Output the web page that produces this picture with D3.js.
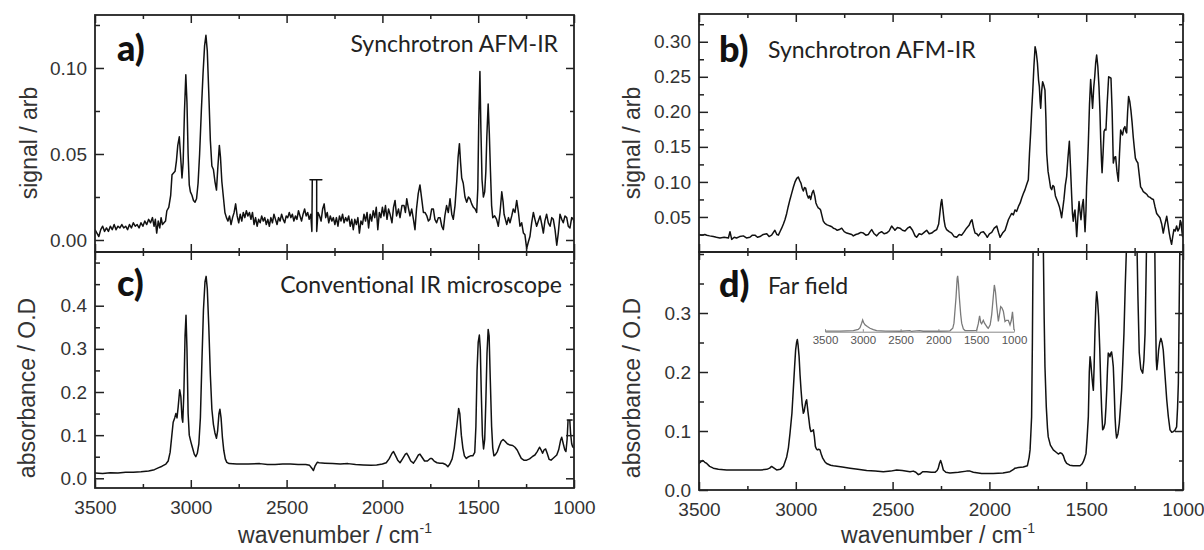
<!DOCTYPE html>
<html><head><meta charset="utf-8">
<script src="https://cdn.jsdelivr.net/npm/d3@7"></script>
<style>
body{margin:0;background:#fff;}
svg{display:block;}
</style></head><body>
<script>
// ---------- DATA (wavenumber cm-1, value) ----------
const xMajorTicks = [3500,3000,2500,2000,1500,1000];
const xMinorTicks = [3250,2750,2250,1750,1250];
const insetTicks = [3500,3000,2500,2000,1500,1000];

const yTicksA = [0,0.05,0.10], yMinorA = [0.025,0.075,0.125];
const yTicksB = [0.05,0.10,0.15,0.20,0.25,0.30], yMinorB = [0.025,0.075,0.125,0.175,0.225,0.275,0.325];
const yTicksC = [0,0.1,0.2,0.3,0.4], yMinorC = [0.05,0.15,0.25,0.35,0.45,0.5];
const yTicksD = [0,0.1,0.2,0.3], yMinorD = [0.05,0.15,0.25,0.35,0.4];

const spectrumA = [[3500,0.006],[3490,0.004],[3480,0.002],[3470,0.006],[3460,0.008],[3450,0.005],[3440,0.007],[3430,0.005],[3420,0.008],[3410,0.006],[3400,0.009],[3390,0.006],[3380,0.008],[3370,0.007],[3360,0.009],[3350,0.007],[3340,0.008],[3330,0.006],[3320,0.009],[3310,0.007],[3300,0.010],[3290,0.008],[3280,0.009],[3270,0.007],[3260,0.010],[3250,0.008],[3240,0.011],[3230,0.009],[3220,0.012],[3210,0.010],[3200,0.013],[3192,0.008],[3185,0.012],[3178,0.004],[3170,0.011],[3162,0.007],[3155,0.013],[3148,0.009],[3140,0.010],[3132,0.011],[3125,0.017],[3115,0.019],[3105,0.026],[3098,0.038],[3090,0.039],[3082,0.040],[3075,0.046],[3068,0.055],[3060,0.060],[3054,0.050],[3046,0.036],[3040,0.045],[3033,0.075],[3026,0.096],[3020,0.080],[3014,0.050],[3008,0.032],[3002,0.028],[2994,0.026],[2986,0.023],[2978,0.022],[2970,0.024],[2962,0.033],[2954,0.050],[2945,0.075],[2936,0.097],[2928,0.113],[2921,0.119],[2914,0.110],[2906,0.085],[2898,0.058],[2890,0.043],[2882,0.041],[2874,0.034],[2866,0.029],[2859,0.042],[2851,0.055],[2845,0.048],[2838,0.034],[2830,0.025],[2822,0.016],[2814,0.013],[2806,0.011],[2798,0.014],[2790,0.009],[2782,0.013],[2774,0.016],[2766,0.021],[2758,0.014],[2750,0.010],[2742,0.015],[2734,0.011],[2726,0.016],[2718,0.013],[2710,0.017],[2702,0.014],[2694,0.016],[2686,0.012],[2678,0.016],[2670,0.009],[2662,0.013],[2654,0.008],[2646,0.012],[2638,0.010],[2630,0.014],[2622,0.011],[2614,0.013],[2606,0.009],[2598,0.012],[2590,0.008],[2582,0.013],[2574,0.010],[2566,0.015],[2558,0.012],[2550,0.009],[2542,0.013],[2534,0.011],[2526,0.015],[2518,0.012],[2510,0.010],[2502,0.014],[2494,0.013],[2486,0.016],[2478,0.013],[2470,0.015],[2462,0.011],[2454,0.014],[2446,0.012],[2438,0.017],[2430,0.014],[2422,0.011],[2414,0.015],[2406,0.018],[2398,0.014],[2390,0.016],[2382,0.012],[2374,0.015],[2368,0.005],[2366,0.035],[2378,0.035],[2316,0.035],[2343,0.035],[2343,0.005],[2336,0.016],[2328,0.014],[2320,0.011],[2312,0.018],[2304,0.021],[2296,0.013],[2288,0.016],[2280,0.010],[2272,0.014],[2264,0.011],[2256,0.013],[2248,0.009],[2240,0.013],[2232,0.008],[2224,0.014],[2216,0.011],[2208,0.015],[2200,0.010],[2192,0.013],[2184,0.011],[2176,0.014],[2168,0.008],[2160,0.012],[2152,0.006],[2144,0.012],[2136,0.009],[2128,0.013],[2120,0.004],[2112,0.011],[2104,0.009],[2096,0.015],[2088,0.011],[2080,0.016],[2072,0.007],[2064,0.015],[2056,0.011],[2048,0.017],[2040,0.013],[2032,0.019],[2024,0.006],[2016,0.016],[2008,0.013],[2000,0.019],[1992,0.014],[1984,0.020],[1976,0.012],[1968,0.018],[1960,0.015],[1950,0.010],[1942,0.019],[1934,0.023],[1926,0.014],[1916,0.018],[1908,0.013],[1898,0.020],[1887,0.020],[1880,0.016],[1873,0.024],[1865,0.019],[1856,0.014],[1847,0.018],[1838,0.012],[1830,0.006],[1822,0.018],[1813,0.027],[1804,0.032],[1795,0.024],[1786,0.016],[1778,0.016],[1768,0.014],[1760,0.011],[1752,0.012],[1743,0.018],[1734,0.018],[1726,0.012],[1717,0.010],[1708,0.013],[1699,0.013],[1690,0.008],[1682,0.006],[1674,0.014],[1665,0.020],[1656,0.016],[1647,0.024],[1638,0.015],[1630,0.012],[1621,0.020],[1612,0.034],[1605,0.048],[1598,0.056],[1592,0.045],[1586,0.036],[1578,0.033],[1569,0.025],[1560,0.022],[1551,0.025],[1543,0.024],[1534,0.021],[1525,0.019],[1516,0.018],[1508,0.016],[1502,0.030],[1497,0.070],[1491,0.098],[1486,0.065],[1480,0.035],[1473,0.025],[1466,0.028],[1460,0.040],[1455,0.060],[1448,0.079],[1442,0.062],[1436,0.040],[1430,0.020],[1424,0.013],[1414,0.014],[1404,0.012],[1395,0.008],[1386,0.016],[1377,0.028],[1370,0.022],[1365,0.015],[1358,0.012],[1351,0.009],[1342,0.013],[1334,0.010],[1325,0.014],[1317,0.018],[1308,0.016],[1299,0.023],[1290,0.016],[1282,0.008],[1273,0.010],[1264,0.004],[1256,0.003],[1247,-0.005],[1238,-0.001],[1230,0.002],[1221,0.010],[1212,0.016],[1204,0.012],[1195,0.008],[1186,0.011],[1177,0.014],[1168,0.009],[1160,0.004],[1152,0.011],[1143,0.015],[1134,0.010],[1125,0.008],[1116,0.013],[1108,0.012],[1099,0.006],[1090,-0.003],[1082,0.004],[1073,0.015],[1064,0.012],[1056,0.010],[1047,0.014],[1038,0.013],[1030,0.008],[1021,0.007],[1012,0.013],[1003,0.012],[1000,0.010]];

const spectrumB = [[3500,0.025],[3485,0.024],[3470,0.025],[3460,0.024],[3445,0.023],[3426,0.022],[3410,0.021],[3392,0.020],[3370,0.021],[3348,0.020],[3340,0.029],[3331,0.018],[3318,0.021],[3306,0.020],[3290,0.022],[3271,0.023],[3255,0.020],[3237,0.021],[3224,0.024],[3211,0.024],[3198,0.021],[3185,0.022],[3168,0.025],[3150,0.026],[3138,0.022],[3125,0.024],[3108,0.031],[3098,0.025],[3090,0.024],[3080,0.030],[3073,0.034],[3064,0.040],[3056,0.046],[3047,0.055],[3039,0.065],[3030,0.075],[3021,0.084],[3012,0.093],[3004,0.100],[2995,0.105],[2987,0.107],[2980,0.102],[2973,0.098],[2967,0.091],[2961,0.087],[2955,0.092],[2949,0.091],[2942,0.082],[2935,0.077],[2929,0.080],[2923,0.075],[2916,0.084],[2909,0.088],[2902,0.080],[2896,0.070],[2890,0.066],[2884,0.063],[2878,0.062],[2872,0.060],[2865,0.052],[2858,0.044],[2850,0.041],[2841,0.039],[2832,0.038],[2823,0.037],[2814,0.036],[2806,0.034],[2796,0.033],[2786,0.031],[2775,0.032],[2763,0.034],[2750,0.029],[2737,0.027],[2724,0.026],[2711,0.025],[2703,0.023],[2690,0.025],[2677,0.026],[2664,0.028],[2651,0.027],[2638,0.024],[2625,0.025],[2616,0.029],[2608,0.032],[2595,0.026],[2582,0.023],[2570,0.027],[2557,0.029],[2544,0.026],[2531,0.027],[2518,0.030],[2505,0.037],[2496,0.034],[2488,0.031],[2475,0.035],[2462,0.034],[2449,0.031],[2436,0.030],[2423,0.034],[2410,0.036],[2397,0.031],[2384,0.023],[2376,0.021],[2363,0.026],[2350,0.025],[2337,0.028],[2324,0.031],[2311,0.026],[2298,0.027],[2285,0.030],[2272,0.032],[2262,0.040],[2256,0.055],[2250,0.070],[2246,0.075],[2240,0.060],[2234,0.045],[2228,0.036],[2221,0.032],[2208,0.029],[2195,0.027],[2182,0.022],[2169,0.021],[2156,0.025],[2143,0.024],[2130,0.029],[2118,0.034],[2105,0.038],[2096,0.044],[2090,0.046],[2082,0.035],[2074,0.027],[2065,0.026],[2057,0.023],[2044,0.028],[2031,0.029],[2020,0.025],[2011,0.021],[2000,0.026],[1988,0.028],[1975,0.034],[1962,0.037],[1953,0.028],[1945,0.021],[1932,0.027],[1919,0.031],[1910,0.039],[1902,0.046],[1893,0.051],[1885,0.055],[1876,0.053],[1868,0.060],[1859,0.058],[1850,0.065],[1841,0.070],[1833,0.077],[1825,0.083],[1816,0.089],[1808,0.096],[1799,0.103],[1793,0.140],[1787,0.170],[1781,0.205],[1776,0.230],[1770,0.265],[1764,0.293],[1758,0.285],[1752,0.270],[1746,0.245],[1742,0.236],[1738,0.215],[1735,0.205],[1730,0.230],[1725,0.243],[1719,0.238],[1713,0.231],[1708,0.190],[1704,0.141],[1697,0.115],[1690,0.103],[1684,0.092],[1678,0.089],[1672,0.095],[1666,0.093],[1659,0.080],[1652,0.075],[1645,0.070],[1639,0.065],[1633,0.058],[1627,0.049],[1621,0.062],[1615,0.075],[1608,0.095],[1601,0.108],[1594,0.135],[1587,0.158],[1581,0.120],[1575,0.080],[1571,0.055],[1567,0.044],[1562,0.055],[1558,0.060],[1553,0.040],[1549,0.022],[1543,0.050],[1537,0.072],[1532,0.058],[1527,0.046],[1521,0.065],[1515,0.075],[1510,0.050],[1506,0.029],[1501,0.060],[1498,0.093],[1493,0.125],[1489,0.155],[1483,0.210],[1477,0.246],[1472,0.225],[1467,0.205],[1461,0.235],[1456,0.250],[1451,0.270],[1446,0.281],[1440,0.265],[1434,0.236],[1429,0.200],[1425,0.160],[1421,0.130],[1418,0.113],[1413,0.140],[1408,0.172],[1403,0.175],[1398,0.174],[1392,0.210],[1384,0.250],[1378,0.249],[1372,0.248],[1366,0.200],[1360,0.127],[1354,0.135],[1348,0.136],[1341,0.115],[1334,0.101],[1328,0.140],[1322,0.174],[1317,0.170],[1312,0.167],[1306,0.176],[1300,0.179],[1295,0.172],[1291,0.170],[1286,0.200],[1281,0.222],[1275,0.215],[1269,0.202],[1263,0.185],[1257,0.164],[1252,0.150],[1246,0.134],[1240,0.130],[1233,0.127],[1226,0.110],[1219,0.093],[1212,0.090],[1205,0.086],[1195,0.084],[1186,0.082],[1179,0.079],[1170,0.078],[1162,0.076],[1153,0.075],[1145,0.065],[1136,0.055],[1128,0.052],[1119,0.049],[1110,0.040],[1102,0.027],[1093,0.040],[1084,0.051],[1078,0.040],[1071,0.027],[1065,0.018],[1059,0.011],[1053,0.022],[1047,0.032],[1040,0.030],[1033,0.037],[1026,0.030],[1019,0.034],[1014,0.045],[1010,0.042],[1005,0.028],[1002,0.022],[1000,0.030]];

const spectrumC = [[3500,0.012],[3460,0.011],[3420,0.013],[3380,0.012],[3340,0.014],[3300,0.014],[3260,0.015],[3220,0.017],[3190,0.020],[3170,0.024],[3150,0.028],[3130,0.033],[3118,0.040],[3108,0.060],[3100,0.095],[3092,0.130],[3084,0.140],[3078,0.150],[3072,0.140],[3066,0.165],[3058,0.205],[3052,0.190],[3046,0.140],[3042,0.130],[3036,0.200],[3030,0.330],[3025,0.378],[3020,0.300],[3014,0.150],[3008,0.100],[3000,0.085],[2992,0.072],[2982,0.056],[2974,0.050],[2966,0.058],[2958,0.080],[2950,0.140],[2942,0.270],[2934,0.390],[2926,0.455],[2920,0.468],[2914,0.440],[2906,0.350],[2898,0.240],[2890,0.160],[2882,0.125],[2874,0.105],[2866,0.093],[2860,0.110],[2853,0.150],[2848,0.160],[2842,0.140],[2835,0.095],[2828,0.065],[2820,0.045],[2812,0.037],[2800,0.034],[2760,0.033],[2700,0.033],[2640,0.034],[2600,0.032],[2560,0.032],[2520,0.033],[2480,0.033],[2440,0.032],[2400,0.032],[2380,0.030],[2366,0.022],[2360,0.018],[2352,0.028],[2340,0.037],[2330,0.036],[2300,0.035],[2260,0.034],[2220,0.033],[2180,0.034],[2140,0.032],[2100,0.031],[2060,0.030],[2030,0.031],[2000,0.033],[1980,0.036],[1965,0.045],[1950,0.058],[1942,0.062],[1934,0.055],[1920,0.042],[1908,0.036],[1895,0.045],[1880,0.056],[1873,0.058],[1865,0.052],[1852,0.040],[1838,0.035],[1825,0.044],[1812,0.054],[1804,0.056],[1795,0.050],[1780,0.040],[1765,0.040],[1750,0.046],[1742,0.046],[1730,0.040],[1715,0.036],[1700,0.035],[1685,0.035],[1670,0.032],[1658,0.027],[1648,0.033],[1636,0.045],[1625,0.070],[1612,0.120],[1602,0.162],[1596,0.150],[1588,0.100],[1580,0.070],[1572,0.052],[1562,0.046],[1550,0.050],[1540,0.052],[1528,0.052],[1518,0.060],[1512,0.120],[1506,0.250],[1500,0.315],[1494,0.332],[1489,0.300],[1484,0.200],[1478,0.100],[1472,0.068],[1466,0.090],[1460,0.180],[1454,0.290],[1448,0.345],[1443,0.330],[1437,0.230],[1430,0.120],[1424,0.070],[1418,0.052],[1410,0.055],[1400,0.062],[1390,0.075],[1380,0.086],[1370,0.090],[1360,0.086],[1348,0.080],[1334,0.077],[1320,0.076],[1308,0.072],[1296,0.065],[1285,0.055],[1275,0.046],[1262,0.042],[1247,0.042],[1232,0.045],[1218,0.050],[1204,0.054],[1192,0.062],[1180,0.072],[1172,0.066],[1164,0.058],[1156,0.066],[1148,0.068],[1140,0.058],[1130,0.044],[1120,0.042],[1110,0.046],[1100,0.050],[1090,0.054],[1080,0.066],[1070,0.088],[1064,0.095],[1056,0.080],[1048,0.066],[1042,0.062],[1036,0.090],[1031,0.135],[1035,0.135],[1010,0.135],[1022,0.135],[1018,0.105],[1012,0.080],[1007,0.073],[1000,0.070]];

const spectrumD = [[3500,0.045],[3490,0.048],[3480,0.050],[3470,0.047],[3460,0.045],[3445,0.040],[3426,0.037],[3400,0.035],[3357,0.034],[3300,0.034],[3237,0.034],[3180,0.034],[3150,0.035],[3135,0.037],[3125,0.040],[3112,0.037],[3099,0.034],[3080,0.035],[3064,0.040],[3047,0.056],[3038,0.072],[3030,0.096],[3020,0.130],[3013,0.170],[3006,0.210],[3001,0.237],[2996,0.250],[2992,0.255],[2988,0.245],[2983,0.226],[2978,0.195],[2973,0.170],[2967,0.145],[2961,0.130],[2957,0.133],[2953,0.141],[2948,0.150],[2944,0.153],[2938,0.135],[2932,0.119],[2927,0.105],[2922,0.099],[2916,0.100],[2909,0.102],[2904,0.090],[2899,0.074],[2894,0.070],[2889,0.068],[2882,0.069],[2875,0.068],[2868,0.060],[2861,0.054],[2850,0.048],[2841,0.045],[2820,0.042],[2806,0.041],[2760,0.039],[2720,0.037],[2680,0.035],[2634,0.033],[2590,0.032],[2548,0.031],[2510,0.032],[2479,0.034],[2450,0.033],[2410,0.031],[2393,0.032],[2380,0.030],[2367,0.026],[2359,0.027],[2345,0.031],[2324,0.031],[2300,0.030],[2281,0.030],[2270,0.033],[2264,0.037],[2258,0.045],[2252,0.050],[2246,0.044],[2238,0.034],[2225,0.030],[2204,0.029],[2160,0.030],[2118,0.032],[2100,0.032],[2083,0.030],[2040,0.028],[1980,0.028],[1930,0.029],[1894,0.031],[1875,0.035],[1868,0.037],[1850,0.038],[1825,0.039],[1804,0.041],[1795,0.055],[1790,0.068],[1786,0.095],[1782,0.124],[1778,0.250],[1774,0.420],[1768,0.700],[1760,0.900],[1748,1.000],[1738,0.950],[1730,0.800],[1725,0.600],[1721,0.400],[1717,0.290],[1713,0.209],[1706,0.140],[1700,0.105],[1696,0.090],[1685,0.076],[1670,0.068],[1655,0.064],[1644,0.061],[1635,0.063],[1626,0.062],[1618,0.058],[1610,0.050],[1601,0.045],[1585,0.042],[1567,0.041],[1550,0.041],[1532,0.041],[1522,0.044],[1515,0.048],[1508,0.054],[1501,0.062],[1495,0.090],[1489,0.124],[1484,0.200],[1480,0.226],[1476,0.215],[1472,0.198],[1467,0.180],[1463,0.169],[1459,0.210],[1455,0.265],[1450,0.315],[1446,0.336],[1441,0.320],[1436,0.294],[1430,0.240],[1425,0.181],[1420,0.135],[1415,0.102],[1409,0.105],[1403,0.113],[1398,0.140],[1394,0.169],[1390,0.205],[1386,0.232],[1381,0.230],[1377,0.226],[1373,0.232],[1369,0.234],[1365,0.225],[1360,0.209],[1355,0.165],[1351,0.124],[1347,0.100],[1343,0.088],[1336,0.095],[1329,0.113],[1323,0.140],[1317,0.169],[1311,0.215],[1305,0.265],[1298,0.350],[1291,0.420],[1282,0.600],[1270,0.750],[1258,0.700],[1245,0.550],[1238,0.420],[1233,0.330],[1226,0.233],[1218,0.205],[1208,0.198],[1202,0.220],[1196,0.265],[1192,0.340],[1188,0.420],[1178,0.650],[1165,0.700],[1152,0.600],[1146,0.420],[1142,0.300],[1138,0.220],[1135,0.204],[1130,0.220],[1126,0.237],[1120,0.250],[1114,0.257],[1108,0.250],[1102,0.237],[1093,0.195],[1084,0.153],[1076,0.125],[1067,0.102],[1058,0.098],[1050,0.099],[1042,0.101],[1033,0.107],[1028,0.140],[1024,0.181],[1020,0.300],[1016,0.420],[1008,0.600],[1000,0.650]];

const spectrumInset = [[3500,0.01],[3300,0.01],[3125,0.02],[3060,0.04],[3037,0.07],[3015,0.15],[3002,0.205],[2990,0.16],[2971,0.12],[2940,0.09],[2905,0.06],[2860,0.035],[2817,0.018],[2700,0.01],[2500,0.008],[2376,0.02],[2360,0.005],[2250,0.02],[2200,0.008],[2000,0.008],[1880,0.01],[1847,0.015],[1810,0.06],[1794,0.15],[1767,0.6],[1752,0.93],[1745,0.98],[1735,0.85],[1723,0.6],[1705,0.3],[1692,0.15],[1670,0.05],[1648,0.02],[1550,0.02],[1494,0.025],[1472,0.14],[1455,0.28],[1440,0.16],[1428,0.14],[1406,0.2],[1390,0.15],[1375,0.12],[1350,0.07],[1340,0.06],[1315,0.12],[1295,0.3],[1275,0.6],[1260,0.82],[1245,0.7],[1229,0.45],[1207,0.18],[1195,0.28],[1176,0.44],[1160,0.42],[1141,0.36],[1119,0.18],[1100,0.2],[1075,0.2],[1053,0.12],[1035,0.2],[1020,0.35],[1010,0.2],[1000,0.03]];

// ---------- DRAWING ----------
const W = 1204, H = 550;
const svg = d3.select("body").append("svg").attr("width", W).attr("height", H);
const SANS = "'Liberation Sans', Arial, Helvetica, sans-serif";
const CAL = "Lato, 'Open Sans', sans-serif";
const INK = "#222";

const panels = [
  {id:"a", x0:95, x1:574, y0:15, y1:252, dom:[-0.00698,0.1308], major:yTicksA, minor:yMinorA, fmt:d3.format(".2f"), data:spectrumA, xlab:false},
  {id:"c", x0:95, x1:574, y0:252, y1:488, dom:[-0.0225,0.5245], major:yTicksC, minor:yMinorC, fmt:d3.format(".1f"), data:spectrumC, xlab:true},
  {id:"b", x0:699, x1:1183, y0:14, y1:252, dom:[0,0.3396], major:yTicksB, minor:yMinorB, fmt:d3.format(".2f"), data:spectrumB, xlab:false},
  {id:"d", x0:699, x1:1183, y0:252, y1:490, dom:[0,0.4034], major:yTicksD, minor:yMinorD, fmt:d3.format(".1f"), data:spectrumD, xlab:true}
];

panels.forEach(p => {
  const x = d3.scaleLinear().domain([3500,1000]).range([p.x0, p.x1]);
  const y = d3.scaleLinear().domain(p.dom).range([p.y1, p.y0]);
  const g = svg.append("g");

  svg.append("clipPath").attr("id","clip-"+p.id)
    .append("rect").attr("x",p.x0).attr("y",p.y0).attr("width",p.x1-p.x0).attr("height",p.y1-p.y0);

  const line = d3.line().x(d=>x(d[0])).y(d=>y(d[1]));
  g.append("path").datum(p.data).attr("d", line)
    .attr("clip-path","url(#clip-"+p.id+")")
    .attr("fill","none").attr("stroke","#111").attr("stroke-width",1.5).attr("stroke-linejoin","round");

  const styleAxis = (sel) => {
    sel.select(".domain").remove();
    sel.selectAll("line").attr("stroke", INK).attr("stroke-width",1.5);
    sel.selectAll("text").attr("font-family",SANS).attr("font-size",19).attr("fill","#333");
  };

  g.append("g").attr("transform",`translate(0,${p.y1})`)
    .call(d3.axisBottom(x).tickValues(xMajorTicks).tickSize(-8).tickSizeOuter(0).tickPadding(13)
      .tickFormat(p.xlab ? d3.format("d") : ""))
    .call(styleAxis);
  g.append("g").attr("transform",`translate(0,${p.y1})`)
    .call(d3.axisBottom(x).tickValues(xMinorTicks).tickSize(-4).tickFormat("")).call(styleAxis);
  g.append("g").attr("transform",`translate(0,${p.y0})`)
    .call(d3.axisTop(x).tickValues(xMajorTicks).tickSize(-8).tickFormat("")).call(styleAxis);
  g.append("g").attr("transform",`translate(0,${p.y0})`)
    .call(d3.axisTop(x).tickValues(xMinorTicks).tickSize(-4).tickFormat("")).call(styleAxis);
  g.append("g").attr("transform",`translate(${p.x0},0)`)
    .call(d3.axisLeft(y).tickValues(p.major).tickSize(-9).tickPadding(8).tickFormat(p.fmt)).call(styleAxis);
  g.append("g").attr("transform",`translate(${p.x0},0)`)
    .call(d3.axisLeft(y).tickValues(p.minor).tickSize(-5).tickFormat("")).call(styleAxis);
  g.append("g").attr("transform",`translate(${p.x1},0)`)
    .call(d3.axisRight(y).tickValues(p.major).tickSize(-8).tickFormat("")).call(styleAxis);
  g.append("g").attr("transform",`translate(${p.x1},0)`)
    .call(d3.axisRight(y).tickValues(p.minor).tickSize(-4).tickFormat("")).call(styleAxis);

  g.append("rect").attr("x",p.x0).attr("y",p.y0).attr("width",p.x1-p.x0).attr("height",p.y1-p.y0)
    .attr("fill","none").attr("stroke",INK).attr("stroke-width",1.8);
});

// ---------- Inset in panel d ----------
const xi = d3.scaleLinear().domain([3500,1000]).range([825,1014]);
const yi = d3.scaleLinear().domain([0,1]).range([331.7,274.7]);
const gi = svg.append("g");
gi.append("path").datum(spectrumInset)
  .attr("d", d3.line().x(d=>xi(d[0])).y(d=>yi(d[1])))
  .attr("fill","none").attr("stroke","#7a7a7a").attr("stroke-width",1.3);
gi.append("g").attr("transform","translate(0,331.7)")
  .call(d3.axisBottom(xi).tickValues(insetTicks).tickSize(-2.5).tickSizeOuter(0).tickPadding(4).tickFormat(d3.format("d")))
  .call(s=>{
    s.select(".domain").attr("stroke","#888").attr("stroke-width",1);
    s.selectAll("line").attr("stroke","#888");
    s.selectAll("text").attr("font-family",SANS).attr("font-size",11.5).attr("fill","#555");
  });

// ---------- Axis titles ----------
const titles = [
  {t:"signal / arb", x:29, y:143},
  {t:"absorbance / O.D", x:27, y:388},
  {t:"signal / arb", x:632, y:143},
  {t:"absorbance / O.D", x:632, y:388}
];
titles.forEach(d => {
  svg.append("text").attr("transform",`translate(${d.x},${d.y}) rotate(-90)`)
    .attr("text-anchor","middle").attr("dominant-baseline","central")
    .attr("font-family",SANS).attr("font-size",23).attr("fill","#333").text(d.t);
});
[{x:335},{x:938}].forEach(d => {
  const t = svg.append("text").attr("x",d.x).attr("y",543).attr("text-anchor","middle")
    .attr("font-family",SANS).attr("font-size",23).attr("fill","#333");
  t.append("tspan").text("wavenumber / cm");
  t.append("tspan").attr("dy",-10).attr("font-size",14).text("-1");
});

// ---------- Panel labels ----------
const labels = [
  {t:"a)", x:117, y:61}, {t:"c)", x:117, y:296},
  {t:"b)", x:719, y:62}, {t:"d)", x:719, y:297}
];
labels.forEach(d => svg.append("text").attr("x",d.x).attr("y",d.y)
  .attr("font-family",CAL).attr("font-weight",900).attr("font-size",36).attr("fill","#111").text(d.t));

const notes = [
  {t:"Synchrotron AFM-IR", x:558, y:52, a:"end"},
  {t:"Conventional IR microscope", x:562, y:293, a:"end"},
  {t:"Synchrotron AFM-IR", x:768, y:58, a:"start"},
  {t:"Far field", x:768, y:294, a:"start"}
];
notes.forEach(d => svg.append("text").attr("x",d.x).attr("y",d.y).attr("text-anchor",d.a)
  .attr("font-family",CAL).attr("font-size",23).attr("fill","#222").text(d.t));
</script>
</body></html>
